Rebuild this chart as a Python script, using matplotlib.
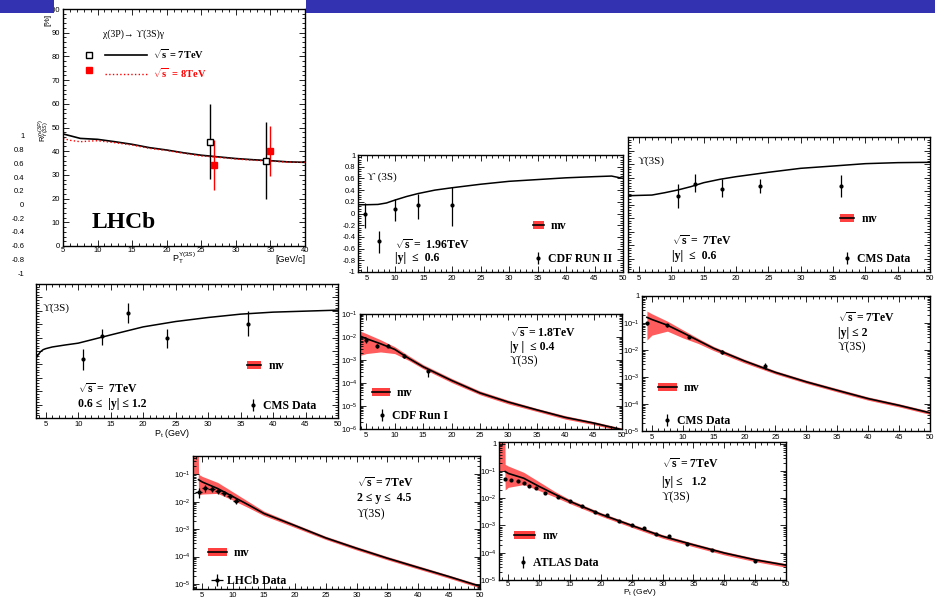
import matplotlib
matplotlib.use("Agg")
import matplotlib.pyplot as plt
from matplotlib.legend import Legend
from matplotlib.lines import Line2D
from matplotlib.patches import Patch, Rectangle
from matplotlib.ticker import MultipleLocator, LogLocator, NullFormatter, FuncFormatter, LogFormatterSciNotation

# ========= data =========
# panel 1: LHCb chi_b(3P) feed-down ratio [%]
lhcb_r_x7 = [5, 7.5, 10, 12.5, 15, 17.5, 20, 22.5, 25, 27.5, 30, 32.5, 35, 37.5, 40]
lhcb_r_y7 = [47.3, 45.4, 45.0, 44.0, 42.9, 41.5, 40.5, 39.3, 38.3, 37.6, 36.9, 36.4, 36.0, 35.5, 35.3]
lhcb_r_x8 = [5, 6, 7.5, 9, 10, 12.5, 15, 17.5, 20, 22.5, 25, 27.5, 30, 32.5, 35, 37.5, 40]
lhcb_r_y8 = [45.4, 44.6, 44.0, 44.3, 44.4, 43.6, 42.6, 41.2, 40.3, 39.1, 38.0, 37.4, 36.7, 36.2, 35.8, 35.4, 35.3]
lhcb_pt7 = [26.2, 34.3]
lhcb_val7 = [44.0, 36.0]
lhcb_err7 = [[15.6, 16.0], [15.8, 16.3]]
lhcb_pt8 = [26.9, 34.9]
lhcb_val8 = [34.2, 40.1]
lhcb_err8 = [[10.7, 10.4], [10.5, 10.4]]

# panel 2: CDF Run II polarization, |y|<0.6
cdf2_x = [3.5, 5, 7, 8.5, 10, 12, 14, 17, 20, 25, 30, 35, 40, 45, 48, 50]
cdf2_y = [0.15, 0.15, 0.155, 0.18, 0.23, 0.29, 0.34, 0.40, 0.44, 0.50, 0.55, 0.58, 0.61, 0.63, 0.64, 0.60]
cdf2_pt = [4.8, 7.2, 10, 14, 20]
cdf2_val = [0.0, -0.47, 0.08, 0.15, 0.15]
cdf2_err = [[0.24, 0.20, 0.20, 0.25, 0.37], [0.18, 0.17, 0.16, 0.19, 0.31]]

# panel 3: CMS polarization, |y|<0.6
cms1_x = [3.3, 5, 7, 9, 11, 13, 15, 17.5, 20, 25, 30, 35, 40, 45, 50]
cms1_y = [0.13, 0.135, 0.14, 0.175, 0.215, 0.264, 0.323, 0.373, 0.412, 0.477, 0.536, 0.57, 0.605, 0.62, 0.625]
cms1_pt = [11, 13.7, 17.8, 23.7, 36.2]
cms1_val = [0.13, 0.31, 0.23, 0.27, 0.27]
cms1_err = [[0.18, 0.12, 0.12, 0.105, 0.155], [0.17, 0.135, 0.145, 0.105, 0.165]]

# panel 4: CMS polarization, 0.6<|y|<1.2
cms2_x = [3.5, 3.8, 4.2, 4.6, 5, 6, 8, 10, 12, 15, 20, 25, 30, 35, 40, 45, 50]
cms2_y = [-0.11, -0.06, -0.01, 0.02, 0.035, 0.06, 0.09, 0.117, 0.166, 0.24, 0.36, 0.44, 0.50, 0.55, 0.58, 0.595, 0.61]
cms2_pt = [10.7, 13.7, 17.7, 23.6, 36.2]
cms2_val = [-0.12, 0.226, 0.563, 0.20, 0.40]
cms2_err = [[0.16, 0.14, 0.14, 0.16, 0.17], [0.15, 0.105, 0.15, 0.13, 0.19]]

# panel 5: CDF Run I cross section
cdf1_x = [3.9, 5, 7.5, 10, 12.5, 15, 20, 25, 30, 35, 40, 45, 50]
cdf1_y = [1.1e-2, 8.5e-3, 5.1e-3, 2.9e-3, 1.17e-3, 5.1e-4, 1.29e-4, 3.7e-5, 1.48e-5, 6.8e-6, 3.2e-6, 1.82e-6, 9.3e-7]
cdf1_hi = [1.82e-2, 1.41e-2, 7.6e-3, 3.8e-3, 1.51e-3, 6.3e-4, 1.58e-4, 4.5e-5, 1.78e-5, 7.9e-6, 3.8e-6, 2.1e-6, 1.1e-6]
cdf1_lo = [1.58e-3, 1.9e-3, 2.24e-3, 1.9e-3, 9.5e-4, 4.2e-4, 1.05e-4, 3.1e-5, 1.23e-5, 5.8e-6, 2.7e-6, 1.55e-6, 7.9e-7]
cdf1_pt = [4.9, 6.9, 8.8, 11.7, 15.8]
cdf1_val = [7.2e-3, 4.0e-3, 4.1e-3, 1.5e-3, 3.2e-4]
cdf1_err = [[1.5e-3, 0.8e-3, 0.6e-3, 0.3e-3, 1.3e-4], [1.8e-3, 1.0e-3, 0.8e-3, 0.4e-3, 0.8e-4]]

# panel 6: CMS cross section, |y|<2
cms3_x = [4.2, 5, 7.5, 10, 12.5, 15, 20, 25, 30, 35, 40, 45, 50]
cms3_y = [0.162, 0.135, 0.083, 0.0437, 0.0224, 0.0115, 3.9e-3, 1.48e-3, 6.6e-4, 3.2e-4, 1.58e-4, 8.9e-5, 4.7e-5]
cms3_hi = [0.275, 0.219, 0.117, 0.056, 0.0269, 0.0135, 4.5e-3, 1.7e-3, 7.6e-4, 3.7e-4, 1.82e-4, 1.02e-4, 5.4e-5]
cms3_lo = [0.0234, 0.0355, 0.05, 0.0282, 0.0174, 9.5e-3, 3.3e-3, 1.29e-3, 5.8e-4, 2.8e-4, 1.38e-4, 7.8e-5, 4.1e-5]
cms3_pt = [4.2, 7.4, 11.0, 16.3, 23.3]
cms3_val = [0.098, 0.083, 0.031, 0.0085, 0.0026]
cms3_err = [0.015, 0.010, 0.004, 0.0012, 0.0006]

# panel 7: LHCb cross section, 2<y<4.5
lhcb_x = [4.4, 5, 7.5, 10, 12.5, 15, 20, 25, 30, 35, 40, 45, 50]
lhcb_y = [0.063, 0.052, 0.030, 0.0151, 7.6e-3, 3.7e-3, 1.35e-3, 4.8e-4, 2.0e-4, 8.7e-5, 4.0e-5, 1.86e-5, 8.3e-6]
lhcb_bx = [3.6, 4.35, 4.4, 5, 7.5, 10, 12.5, 15, 20, 25, 30, 35, 40, 45, 50]
lhcb_hi = [1.0, 1.0, 0.1, 0.083, 0.05, 0.0224, 0.01, 4.5e-3, 1.55e-3, 5.5e-4, 2.3e-4, 1.0e-4, 4.6e-5, 2.1e-5, 9.5e-6]
lhcb_lo = [0.1, 0.1, 0.0174, 0.019, 0.02, 0.0112, 6.0e-3, 3.1e-3, 1.15e-3, 4.2e-4, 1.74e-4, 7.6e-5, 3.5e-5, 1.62e-5, 7.2e-6]
lhcb_pt = [4.4, 5.5, 6.5, 7.5, 8.5, 9.5, 10.5]
lhcb_val = [0.023, 0.032, 0.030, 0.024, 0.020, 0.016, 0.011]
lhcb_err = [0.009, 0.010, 0.008, 0.005, 0.004, 0.003, 0.003]

# panel 8: ATLAS cross section, |y|<1.2
atlas_x = [4.5, 5, 7.5, 10, 12.5, 15, 20, 25, 30, 35, 40, 45, 50]
atlas_y = [0.095, 0.081, 0.054, 0.027, 0.0141, 7.6e-3, 2.57e-3, 1.0e-3, 4.0e-4, 1.95e-4, 9.8e-5, 5.5e-5, 3.5e-5]
atlas_bx = [3.5, 4.45, 4.5, 5, 7.5, 10, 12.5, 15, 20, 25, 30, 35, 40, 45, 50]
atlas_hi = [2.0, 2.0, 0.174, 0.151, 0.089, 0.04, 0.0178, 8.9e-3, 2.95e-3, 1.15e-3, 4.6e-4, 2.24e-4, 1.12e-4, 6.3e-5, 4.0e-5]
atlas_lo = [0.1, 0.1, 0.02, 0.025, 0.0316, 0.019, 0.0112, 6.3e-3, 2.2e-3, 8.5e-4, 3.4e-4, 1.66e-4, 8.3e-5, 4.7e-5, 2.95e-5]
atlas_pt = [4.4, 5.4, 6.5, 7.5, 8.4, 9.5, 11, 13, 15, 17, 19, 21, 23, 25, 27, 29, 31, 34, 38, 45]
atlas_val = [0.050, 0.045, 0.041, 0.0355, 0.0288, 0.0234, 0.0151, 0.0115, 7.9e-3, 5.0e-3, 3.2e-3, 2.35e-3,
             1.48e-3, 1.05e-3, 7.9e-4, 5.0e-4, 4.0e-4, 2.1e-4, 1.29e-4, 4.8e-5]

pol_ticks = [-1, -0.8, -0.6, -0.4, -0.2, 0, 0.2, 0.4, 0.6, 0.8, 1]

# ========= layout / style =========
W, H = 935, 599
SERIF = ["Liberation Serif", "DejaVu Serif"]
BAND = "#ff4040"
UPS = "ϒ"
plt.rcParams["font.family"] = ["Liberation Sans", "DejaVu Sans"]
plt.rcParams["mathtext.fontset"] = "custom"
plt.rcParams["mathtext.rm"] = "Liberation Sans"
plt.rcParams["mathtext.it"] = "Liberation Sans:italic"
plt.rcParams["mathtext.bf"] = "Liberation Serif:bold"

fig = plt.figure(figsize=(W / 100, H / 100), dpi=100)
sci = LogFormatterSciNotation()


def fx(x):
    return x / W


def fy(y):
    return 1 - y / H


def add_ax(l, t, r, b):
    return fig.add_axes([fx(l), fy(b), (r - l) / W, (b - t) / H])


def log_label(v, pos):
    # ROOT prints the unit decade as a plain "1"
    if abs(v - 1) < 1e-9:
        return "1"
    return sci(v, pos)


def style(ax, xlim, log=False):
    ax.set_xlim(*xlim)
    ax.xaxis.set_major_locator(MultipleLocator(5))
    ax.xaxis.set_minor_locator(MultipleLocator(1))
    if log:
        ax.set_yscale("log")
        ax.yaxis.set_major_locator(LogLocator(base=10, numticks=12))
        ax.yaxis.set_minor_locator(LogLocator(base=10, subs=range(2, 10), numticks=12))
        ax.yaxis.set_major_formatter(FuncFormatter(log_label))
        ax.yaxis.set_minor_formatter(NullFormatter())
    ax.tick_params(which="both", direction="in", top=True, right=True, labelsize=5.5, pad=2, width=0.6)
    ax.tick_params(which="major", length=4)
    ax.tick_params(which="minor", length=2)
    for s in ax.spines.values():
        s.set_linewidth(1.0)


def pol_axis(ax, labels=True):
    ax.set_ylim(-1, 1)
    ax.set_yticks(pol_ticks)
    ax.yaxis.set_minor_locator(MultipleLocator(0.04))
    ax.set_yticklabels([f"{v:g}" for v in pol_ticks] if labels else [])


def label(x, y, s, size=8.5, weight="bold", color="black", **kw):
    fig.text(fx(x), fy(y), s, ha="left", va="center", fontsize=size, fontweight=weight,
             family=SERIF, color=color, **kw)


def key(ax, handles, labels, x, y, hl, size=8.5):
    leg = Legend(ax, handles, labels, loc="center left", bbox_to_anchor=(fx(x), fy(y)),
                 bbox_transform=fig.transFigure, frameon=False, borderpad=0, borderaxespad=0,
                 handlelength=hl, handletextpad=0.6, prop=dict(family=SERIF, weight="bold", size=size))
    ax.add_artist(leg)
    return leg


def mv_handle():
    return (Patch(facecolor=BAND, edgecolor="none"), Line2D([], [], color="black", lw=1.2))


def points(ax, x, y, err, xerr=None):
    return ax.errorbar(x, y, yerr=err, xerr=xerr, fmt="o", ms=2, color="black", mfc="black",
                       elinewidth=0.9, capsize=0, zorder=5)


# slide title bar
fig.patches.append(Rectangle((0, fy(12.7)), fx(54), 12.7 / H, transform=fig.transFigure,
                             facecolor="#3333b2", edgecolor="none", zorder=0))
fig.patches.append(Rectangle((fx(306), fy(12.7)), 1 - fx(306), 12.7 / H, transform=fig.transFigure,
                             facecolor="#3333b2", edgecolor="none", zorder=0))

# stray axis labels of a figure hidden below panel 1
ghost = add_ax(27, 136, 30, 273)
ghost.set_ylim(-1, 1)
ghost.set_yticks(pol_ticks)
ghost.set_yticklabels([f"{v:g}" for v in pol_ticks])
ghost.set_xticks([])
ghost.tick_params(axis="y", length=0, labelsize=5.5, pad=2)
ghost.patch.set_visible(False)
for s in ghost.spines.values():
    s.set_visible(False)

# ========= panel 1: LHCb ratio =========
ax1 = add_ax(63, 9, 305, 246)
style(ax1, (5, 40))
ax1.tick_params(axis="x", pad=1)
ax1.set_ylim(0, 100)
ax1.yaxis.set_major_locator(MultipleLocator(10))
ax1.yaxis.set_minor_locator(MultipleLocator(2))
ax1.plot(lhcb_r_x7, lhcb_r_y7, color="black", lw=1.2)
ax1.plot(lhcb_r_x8, lhcb_r_y8, color="red", lw=1.0, ls=":")
ax1.errorbar(lhcb_pt7, lhcb_val7, yerr=lhcb_err7, fmt="s", ms=5, mfc="white", mec="black",
             color="black", elinewidth=1.0, zorder=5)
ax1.errorbar(lhcb_pt8, lhcb_val8, yerr=lhcb_err8, fmt="s", ms=4.5, color="red", elinewidth=1.0, zorder=5)
fig.text(fx(48), fy(20), "[%]", rotation=90, ha="center", va="center", fontsize=6)
fig.text(fx(44), fy(131), r"R$^{\chi_{b}(3P)}_{\Upsilon(3S)}$", rotation=90, ha="center", va="center",
         fontsize=5.5)
fig.text(fx(184), fy(258), r"P$_{\rm T}^{\Upsilon(3S)}$", ha="center", va="center", fontsize=6.5)
fig.text(fx(290), fy(259), "[GeV/c]", ha="center", va="center", fontsize=6.5)
label(103, 34, "χ(3P)→ " + UPS + "(3S)γ", size=7, weight="normal")
sq7 = Line2D([], [], marker="s", ls="none", ms=5, mfc="white", mec="black")
sq8 = Line2D([], [], marker="s", ls="none", ms=4.5, mfc="red", mec="red")
key(ax1, [sq7, sq8], ["", ""], 84, 63.5, 1.0, size=7.5)
leg1 = key(ax1, [Line2D([], [], color="black", lw=1.2), Line2D([], [], color="red", lw=1.0, ls=":")],
           [r"$\sqrt{\mathbf{s}}$ = 7TeV", r"$\sqrt{\mathbf{s}}$  = 8TeV"], 105, 63.5, 4.0, size=7.5)
leg1.get_texts()[1].set_color("red")
label(92, 222, "LHCb", size=17)

# ========= panel 2: CDF Run II polarization =========
ax2 = add_ax(358, 155, 623, 272)
style(ax2, (3.5, 50))
pol_axis(ax2)
ax2.plot(cdf2_x, cdf2_y, color="black", lw=1.1)
e2 = points(ax2, cdf2_pt, cdf2_val, cdf2_err)
label(367, 177, UPS + " (3S)", size=8, weight="normal")
label(395, 245, r"$\sqrt{\mathbf{s}}$ =  1.96TeV")
label(395, 258, "|y|  ≤  0.6")
key(ax2, [mv_handle()], ["mv"], 533, 226, 0.9)
key(ax2, [e2], ["CDF RUN II"], 535, 259, 0.5)

# ========= panel 3: CMS polarization |y|<0.6 =========
ax3 = add_ax(628, 137, 930, 272)
style(ax3, (3.3, 50))
pol_axis(ax3, labels=False)
ax3.plot(cms1_x, cms1_y, color="black", lw=1.1)
e3 = points(ax3, cms1_pt, cms1_val, cms1_err)
label(638, 161, UPS + "(3S)", size=8, weight="normal")
label(672, 241, r"$\sqrt{\mathbf{s}}$ =  7TeV")
label(672, 256, "|y|  ≤  0.6")
key(ax3, [mv_handle()], ["mv"], 840, 219, 1.2)
key(ax3, [e3], ["CMS Data"], 844, 259, 0.5)

# ========= panel 4: CMS polarization 0.6<|y|<1.2 =========
ax4 = add_ax(36, 284, 338, 418)
style(ax4, (3.5, 50))
pol_axis(ax4, labels=False)
ax4.plot(cms2_x, cms2_y, color="black", lw=1.1)
e4 = points(ax4, cms2_pt, cms2_val, cms2_err)
fig.text(fx(172), fy(434), r"P$_{\rm t}$ (GeV)", ha="center", va="center", fontsize=6.5)
label(43, 308, UPS + "(3S)", size=8, weight="normal")
label(78, 389, r"$\sqrt{\mathbf{s}}$ =  7TeV")
label(78, 404, "0.6 ≤  |y| ≤ 1.2")
key(ax4, [mv_handle()], ["mv"], 247, 366, 1.2)
key(ax4, [e4], ["CMS Data"], 250, 406, 0.5)

# ========= panel 5: CDF Run I cross section =========
ax5 = add_ax(360, 314, 622, 429)
style(ax5, (3.9, 50), log=True)
ax5.set_ylim(1e-6, 1e-1)
ax5.fill_between(cdf1_x, cdf1_lo, cdf1_hi, color=BAND, alpha=0.85, lw=0)
ax5.plot(cdf1_x, cdf1_y, color="black", lw=1.2)
e5 = points(ax5, cdf1_pt, cdf1_val, cdf1_err)
label(510, 333, r"$\sqrt{\mathbf{s}}$ = 1.8TeV")
label(510, 347, "|y |  ≤ 0.4")
label(510, 361, UPS + "(3S)", size=8.5, weight="normal")
key(ax5, [mv_handle()], ["mv"], 372, 393, 1.5)
key(ax5, [e5], ["CDF Run I"], 379, 416, 0.5)

# ========= panel 6: CMS cross section |y|<2 =========
ax6 = add_ax(642, 296, 930, 431)
style(ax6, (3.4, 50), log=True)
ax6.set_ylim(1e-5, 1)
ax6.fill_between(cms3_x, cms3_lo, cms3_hi, color=BAND, alpha=0.85, lw=0)
ax6.plot(cms3_x, cms3_y, color="black", lw=1.2)
e6 = points(ax6, cms3_pt, cms3_val, cms3_err)
label(838, 318, r"$\sqrt{\mathbf{s}}$ = 7TeV")
label(838, 333, "|y| ≤ 2")
label(838, 347, UPS + "(3S)", size=8.5, weight="normal")
key(ax6, [mv_handle()], ["mv"], 658, 388, 1.6)
key(ax6, [e6], ["CMS Data"], 664, 421, 0.5)

# ========= panel 7: LHCb cross section =========
ax7 = add_ax(193, 456, 480, 589)
style(ax7, (3.5, 50), log=True)
ax7.set_ylim(6.6e-6, 0.46)
ax7.fill_between(lhcb_bx, lhcb_lo, lhcb_hi, color=BAND, alpha=0.85, lw=0)
ax7.plot(lhcb_x, lhcb_y, color="black", lw=1.2)
e7 = points(ax7, lhcb_pt, lhcb_val, lhcb_err, xerr=0.5)
label(357, 483, r"$\sqrt{\mathbf{s}}$ = 7TeV")
label(357, 498, "2 ≤ y ≤  4.5")
label(357, 514, UPS + "(3S)", size=8.5, weight="normal")
key(ax7, [mv_handle()], ["mv"], 208, 553, 1.6)
key(ax7, [e7], ["LHCb Data"], 214, 581, 0.5)

# ========= panel 8: ATLAS cross section =========
ax8 = add_ax(499, 442, 786, 580)
style(ax8, (3.5, 50), log=True)
ax8.tick_params(axis="x", pad=1)
ax8.set_ylim(1e-5, 1.15)
ax8.fill_between(atlas_bx, atlas_lo, atlas_hi, color=BAND, alpha=0.85, lw=0)
ax8.plot(atlas_x, atlas_y, color="black", lw=1.2)
e8 = ax8.errorbar(atlas_pt, atlas_val, yerr=[v * 0.08 for v in atlas_val], fmt="o", ms=2,
                  color="black", elinewidth=0.9, capsize=0, zorder=5)
fig.text(fx(640), fy(593), r"P$_{\rm t}$ (GeV)", ha="center", va="center", fontsize=6)
label(662, 464, r"$\sqrt{\mathbf{s}}$ = 7TeV")
label(662, 482, "|y| ≤   1.2")
label(662, 497, UPS + "(3S)", size=8.5, weight="normal")
key(ax8, [mv_handle()], ["mv"], 514, 536, 1.8)
key(ax8, [e8], ["ATLAS Data"], 520, 563, 0.5)

fig.savefig("out.png", dpi=100)
